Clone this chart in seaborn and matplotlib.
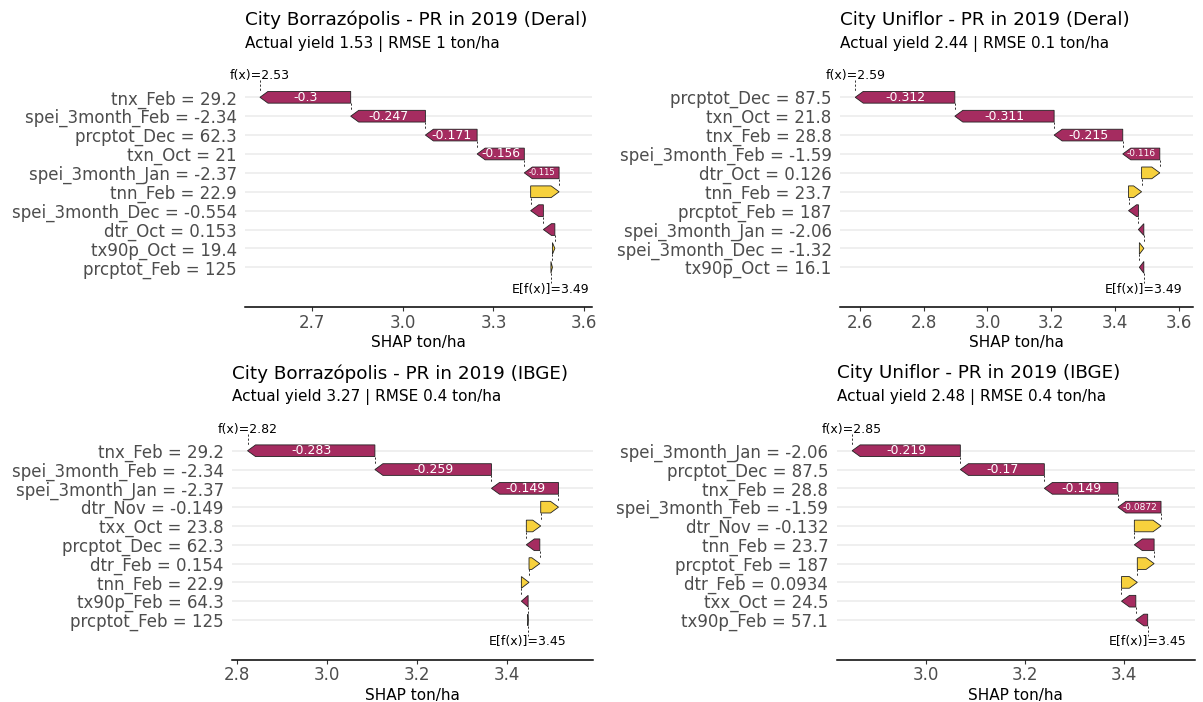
import numpy as np
import matplotlib
matplotlib.use("Agg")
import matplotlib.pyplot as plt
from matplotlib.patches import Polygon
from matplotlib.ticker import MultipleLocator, FormatStrFormatter
import seaborn as sns

# style
sns.set_theme(style="white")
plt.rcParams["font.family"] = ["DejaVu Sans"]

POS_COLOR = "#f7d13d"
NEG_COLOR = "#a52c60"


# DATA (features listed top -> bottom)

titles = [
    "City Borrazópolis - PR in 2019 (Deral)",
    "City Uniflor - PR in 2019 (Deral)",
    "City Borrazópolis - PR in 2019 (IBGE)",
    "City Uniflor - PR in 2019 (IBGE)",
]
subtitles = [
    "Actual yield 1.53 | RMSE 1 ton/ha",
    "Actual yield 2.44 | RMSE 0.1 ton/ha",
    "Actual yield 3.27 | RMSE 0.4 ton/ha",
    "Actual yield 2.48 | RMSE 0.4 ton/ha",
]

features_bd = ["tnx_Feb", "spei_3month_Feb", "prcptot_Dec", "txn_Oct", "spei_3month_Jan",
               "tnn_Feb", "spei_3month_Dec", "dtr_Oct", "tx90p_Oct", "prcptot_Feb"]
values_bd = ["29.2", "-2.34", "62.3", "21", "-2.37", "22.9", "-0.554", "0.153", "19.4", "125"]
shap_bd = [-0.300, -0.247, -0.171, -0.156, -0.115, 0.094, -0.042, -0.038, 0.008, 0.005]
base_bd = 3.49

features_ud = ["prcptot_Dec", "txn_Oct", "tnx_Feb", "spei_3month_Feb", "dtr_Oct",
               "tnn_Feb", "prcptot_Feb", "spei_3month_Jan", "spei_3month_Dec", "tx90p_Oct"]
values_ud = ["87.5", "21.8", "28.8", "-1.59", "0.126", "23.7", "187", "-2.06", "-1.32", "16.1"]
shap_ud = [-0.312, -0.311, -0.215, -0.116, 0.057, 0.041, -0.031, -0.017, 0.014, -0.014]
base_ud = 3.49

features_bi = ["tnx_Feb", "spei_3month_Feb", "spei_3month_Jan", "dtr_Nov", "txx_Oct",
               "prcptot_Dec", "dtr_Feb", "tnn_Feb", "tx90p_Feb", "prcptot_Feb"]
values_bi = ["29.2", "-2.34", "-2.37", "-0.149", "23.8", "62.3", "0.154", "22.9", "64.3", "125"]
shap_bi = [-0.283, -0.259, -0.149, 0.0395, 0.032, -0.030, 0.024, 0.017, -0.015, 0.0005]
base_bi = 3.446

features_ui = ["spei_3month_Jan", "prcptot_Dec", "tnx_Feb", "spei_3month_Feb", "dtr_Nov",
               "tnn_Feb", "prcptot_Feb", "dtr_Feb", "txx_Oct", "tx90p_Feb"]
values_ui = ["-2.06", "87.5", "28.8", "-1.59", "-0.132", "23.7", "187", "0.0934", "24.5", "57.1"]
shap_ui = [-0.219, -0.170, -0.149, -0.0872, 0.054, -0.040, 0.034, 0.032, -0.029, -0.024]
base_ui = 3.448


# LAYOUT (pixels on a 1203x702 canvas)

W, H = 1203, 702
panel_left = [245, 840, 232, 836.7]
panel_right = [592, 1193.3, 592.7, 1195]
panel_top = [61.4, 61.4, 415, 415]
panel_bottom = [307, 307, 659.5, 659.5]
tick_step = [0.3, 0.2, 0.2, 0.2]


fig = plt.figure(figsize=(W / 100, H / 100), dpi=100)
renderer = fig.canvas.get_renderer()


def waterfall(ax, feats, vals, shap, base, title, subtitle, step):
    shap = np.asarray(shap, dtype=float)
    n = len(shap)
    rows = np.arange(1, n + 1)
    ends = base + np.cumsum(shap[::-1])[::-1]
    starts = ends - shap
    fx = ends[0]

    lo_v = min(starts.min(), ends.min())
    hi_v = max(starts.max(), ends.max())
    rng = hi_v - lo_v
    lo, hi = lo_v - 0.05 * rng, hi_v + 0.11 * rng
    ax.set_xlim(lo, hi)
    ax.set_ylim(12.1, -0.9)

    px_per_unit = ax.bbox.width / (hi - lo)
    head_full = 8 / px_per_unit
    hh = 0.31

    # grid rows
    ax.set_yticks(rows)
    ax.set_yticklabels([f"{f} = {v}" for f, v in zip(feats, vals)])
    ax.grid(axis="y", color="#EBEBEB", lw=1.1, zorder=0)
    ax.grid(axis="x", visible=False)

    for i in range(n):
        a, b, y = starts[i], ends[i], rows[i]
        d = 1 if b >= a else -1
        head = min(head_full, abs(b - a))
        pts = [(a, y - hh), (b - d * head, y - hh), (b, y),
               (b - d * head, y + hh), (a, y + hh)]
        ax.add_patch(Polygon(pts, closed=True,
                             facecolor=POS_COLOR if d > 0 else NEG_COLOR,
                             edgecolor="#222222", lw=0.6, zorder=3))

        # value label, shrunk to fit
        avail = abs(b - a) * px_per_unit - 8
        txt = ax.text((a + b) / 2, y, f"{shap[i]:.3g}", ha="center", va="center",
                      color="white", fontsize=9, zorder=4)
        w = txt.get_window_extent(renderer).width
        size = 9 if w <= avail else 9 * avail / w
        if size < 5.5:
            txt.remove()
        else:
            txt.set_fontsize(size)

        # dashed connector to next bar
        if i < n - 1:
            ax.plot([a, a], [y + hh, rows[i + 1] - hh], ls=(0, (2.2, 2)),
                    color="#333333", lw=0.7, zorder=2)

    ax.plot([fx, fx], [0.1, rows[0] - hh], ls=(0, (2.2, 2)), color="#333333", lw=0.7)
    ax.plot([base, base], [rows[-1] + hh, 10.85], ls=(0, (2.2, 2)), color="#333333", lw=0.7)
    ax.text(fx, -0.15, f"f(x)={fx:.3g}", ha="center", va="center", fontsize=9, color="black")
    ax.text(base, 11.15, f"E[f(x)]={base:.3g}", ha="center", va="center", fontsize=9, color="black")

    sns.despine(ax=ax, left=True, top=True, right=True)
    ax.spines["bottom"].set_color("black")
    ax.spines["bottom"].set_linewidth(1.1)
    ax.xaxis.set_major_locator(MultipleLocator(step))
    ax.xaxis.set_major_formatter(FormatStrFormatter("%.1f"))
    ax.tick_params(axis="x", bottom=True, length=3, width=0.8, color="#333333",
                   labelsize=12, labelcolor="#4D4D4D", pad=2)
    ax.tick_params(axis="y", left=False, length=0, pad=6,
                   labelsize=12, labelcolor="#4D4D4D")
    ax.set_xlabel("SHAP ton/ha", fontsize=11, color="black", labelpad=2.5)
    ax.set_ylabel("")

    ax.annotate(title, xy=(0, 1), xycoords="axes fraction", xytext=(0, 30),
                textcoords="offset points", ha="left", va="center", fontsize=13.2, color="black")
    ax.annotate(subtitle, xy=(0, 1), xycoords="axes fraction", xytext=(0, 12.8),
                textcoords="offset points", ha="left", va="center", fontsize=11, color="black")


panels = [
    (features_bd, values_bd, shap_bd, base_bd),
    (features_ud, values_ud, shap_ud, base_ud),
    (features_bi, values_bi, shap_bi, base_bi),
    (features_ui, values_ui, shap_ui, base_ui),
]

for k, (feats, vals, shap, base) in enumerate(panels):
    rect = [panel_left[k] / W, (H - panel_bottom[k]) / H,
            (panel_right[k] - panel_left[k]) / W,
            (panel_bottom[k] - panel_top[k]) / H]
    ax = fig.add_axes(rect)
    ax.set_facecolor("white")
    waterfall(ax, feats, vals, shap, base, titles[k], subtitles[k], tick_step[k])

fig.savefig("out.png", dpi=100, facecolor="white")
plt.close(fig)
